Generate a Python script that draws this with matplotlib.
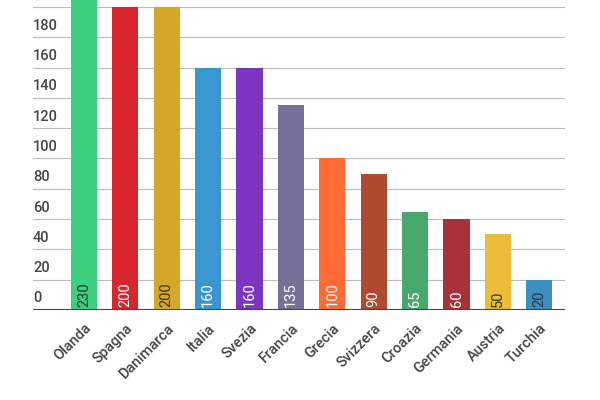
import matplotlib

matplotlib.use("Agg")
import matplotlib.pyplot as plt
import numpy as np

plt.rcParams["font.family"] = ["Roboto", "DejaVu Sans"]

countries = ["Olanda", "Spagna", "Danimarca", "Italia", "Svezia", "Francia",
             "Grecia", "Svizzera", "Croazia", "Germania", "Austria", "Turchia"]
values = [230, 200, 200, 160, 160, 135, 100, 90, 65, 60, 50, 20]
colors = ["#3ecf7e", "#d9252e", "#d4a62a", "#3a96cf", "#7b35c0", "#767098",
          "#ff6a35", "#b04a2e", "#47a86e", "#a8323a", "#ecbb3a", "#3a8fc0"]
label_colors = ["#333333", "white", "#333333", "white", "white", "white",
                "white", "white", "white", "white", "#333333", "#333333"]
yticks = list(range(0, 201, 20))

fig = plt.figure(figsize=(6, 4), dpi=100)
ax = fig.add_axes([33 / 600, 90 / 400, 532 / 600, 310 / 400])
x = np.arange(len(countries))

for t in yticks[1:]:
    ax.axhline(t, color="#bbbbbb", linewidth=0.8, zorder=0)
for t in yticks:
    ax.text(0.0, t + 3, str(t), transform=ax.get_yaxis_transform(),
            fontsize=10.5, fontweight="medium", color="#444444",
            va="bottom", ha="left")

ax.bar(x, values, width=0.63, color=colors, zorder=2)
for xi, v, c in zip(x, values, label_colors):
    ax.text(xi, 2, str(v), rotation=90, ha="center", va="bottom",
            fontsize=10.5, color=c, zorder=3)

ax.axhline(0, color="#444444", linewidth=1.5, zorder=3)
ax.set_xlim(-1.23, 11.62)
ax.set_ylim(0, 204.6)
ax.set_yticks([])
ax.set_xticks(x)
ax.set_xticklabels(countries, rotation=45, ha="right", rotation_mode="anchor",
                   fontsize=10.5, fontweight="medium", color="#444444")
ax.tick_params(axis="x", length=0, pad=8)
for s in ax.spines.values():
    s.set_visible(False)

fig.savefig("out.png", dpi=100)
